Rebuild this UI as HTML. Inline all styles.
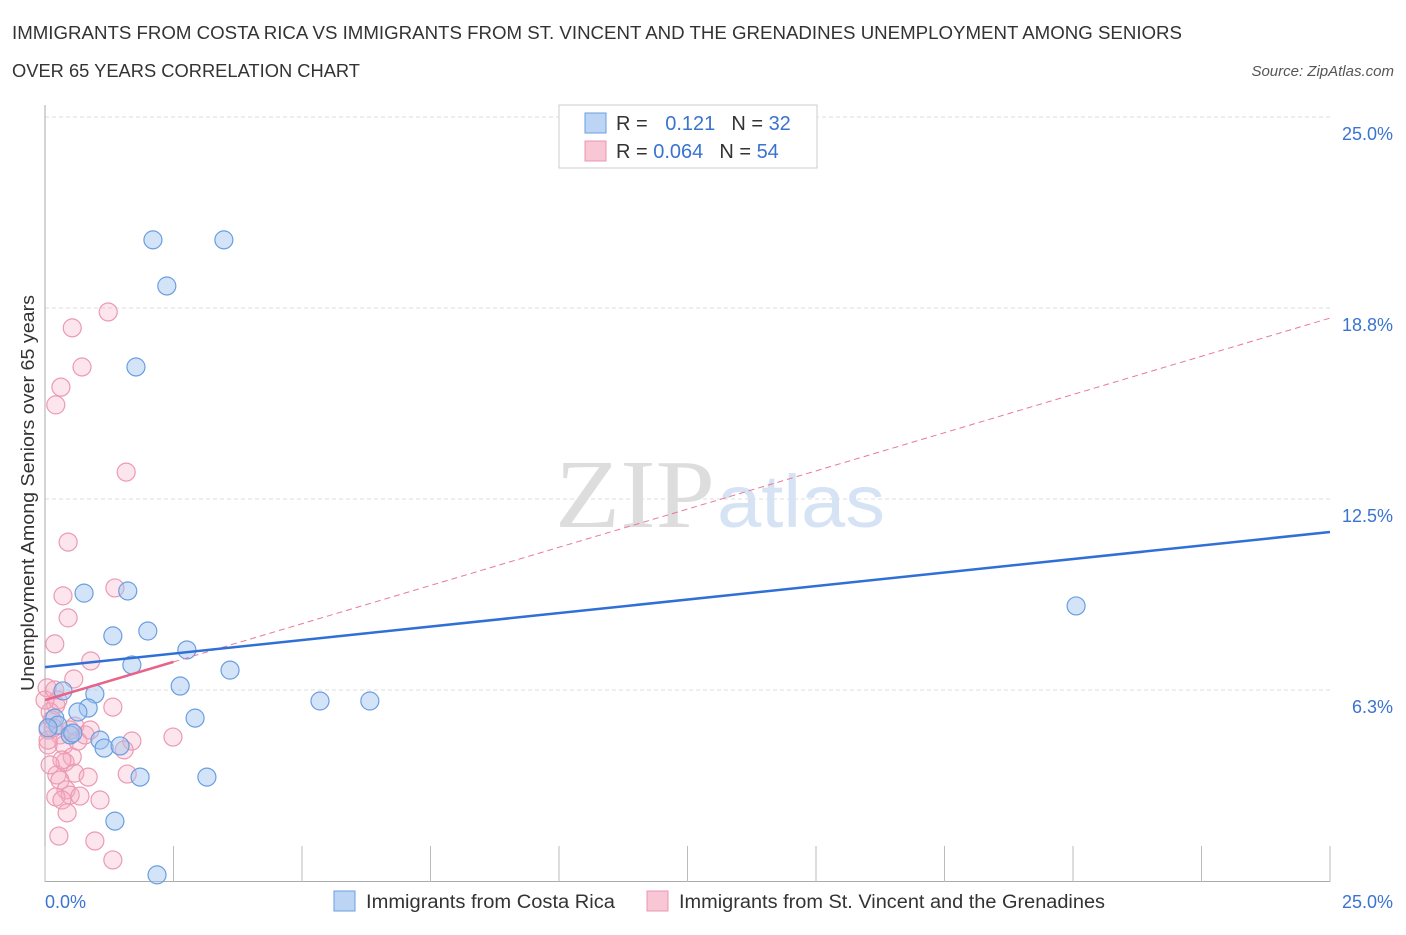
<!DOCTYPE html>
<html><head><meta charset="utf-8"><style>
body{margin:0;background:#fff;font-family:"Liberation Sans",sans-serif;}
svg text{font-family:"Liberation Sans",sans-serif;}
</style></head><body>
<svg id="chart" width="1406" height="930">
<text x="12" y="39" font-size="18" fill="#333" textLength="1170" lengthAdjust="spacingAndGlyphs">IMMIGRANTS FROM COSTA RICA VS IMMIGRANTS FROM ST. VINCENT AND THE GRENADINES UNEMPLOYMENT AMONG SENIORS</text>
<text x="12" y="77" font-size="18" fill="#333" textLength="348" lengthAdjust="spacingAndGlyphs">OVER 65 YEARS CORRELATION CHART</text>
<text x="1394" y="76" font-size="15" fill="#555" font-style="italic" text-anchor="end">Source: ZipAtlas.com</text>
<g id="grid"></g>
<text x="555" y="527" font-size="98" fill="#ddd" textLength="160" lengthAdjust="spacingAndGlyphs" style="font-family:'Liberation Serif',serif">ZIP</text>
<text x="717" y="527" font-size="74" fill="#d5e3f5" textLength="168" lengthAdjust="spacingAndGlyphs">atlas</text>
<g id="marks"></g>
<text x="34" y="493" font-size="18" fill="#333" text-anchor="middle" textLength="396" lengthAdjust="spacingAndGlyphs" transform="rotate(-90 34 493)">Unemployment Among Seniors over 65 years</text>
<g>
<rect x="559" y="105" width="258" height="63" fill="#fff" stroke="#ccc"/>
<rect x="585" y="113" width="21" height="20" fill="#bcd5f5" stroke="#6a9ee0"/>
<rect x="585" y="141" width="21" height="20" fill="#f8c6d4" stroke="#ea97b0"/>
<text x="616" y="130" font-size="20" fill="#333">R = <tspan fill="#3a73d0" dx="12">0.121</tspan><tspan fill="#333" dx="16">N = </tspan><tspan fill="#3a73d0">32</tspan></text>
<text x="616" y="158" font-size="20" fill="#333">R = <tspan fill="#3a73d0">0.064</tspan><tspan fill="#333" dx="16">N = </tspan><tspan fill="#3a73d0">54</tspan></text>
</g>
<g>
<rect x="334" y="891" width="21" height="20" fill="#bcd5f5" stroke="#6a9ee0"/>
<text x="366" y="908" font-size="19" fill="#333" textLength="249" lengthAdjust="spacingAndGlyphs">Immigrants from Costa Rica</text>
<rect x="647" y="891" width="21" height="20" fill="#f8c6d4" stroke="#ea97b0"/>
<text x="679" y="908" font-size="19" fill="#333" textLength="426" lengthAdjust="spacingAndGlyphs">Immigrants from St. Vincent and the Grenadines</text>
</g>
</svg>
<script>
const yTicks=[25,18.75,12.5,6.25];
const yTickLabels=["25.0%","18.8%","12.5%","6.3%"];
const blueX=[2.10,3.48,2.37,1.77,0.76,1.61,1.32,2.00,2.76,1.69,3.60,2.63,0.35,0.97,0.84,0.64,2.92,5.35,6.32,20.06,0.19,0.25,0.49,1.07,1.15,1.46,1.85,3.15,1.36,2.18,0.06,0.54];
const blueY=[20.98,20.98,19.47,16.82,9.42,9.49,8.02,8.18,7.56,7.07,6.90,6.38,6.22,6.12,5.66,5.53,5.33,5.89,5.89,9.00,5.33,5.10,4.78,4.61,4.35,4.42,3.40,3.40,1.96,0.20,5.01,4.84];
const pinkX=[1.23,0.53,0.72,0.31,0.21,1.58,0.45,1.36,0.35,0.45,0.19,0.89,0.56,0.04,1.32,0.21,0.10,0.58,0.14,0.06,0.29,0.37,0.06,0.53,0.39,1.69,1.54,2.49,0.64,0.23,0.58,0.84,1.60,0.29,0.41,0.49,1.07,0.21,0.33,0.68,0.43,0.27,0.97,1.32,0.06,0.16,0.78,0.25,0.00,0.88,0.33,0.10,0.49,0.19];
const pinkY=[18.62,18.10,16.82,16.16,15.58,13.38,11.09,9.59,9.33,8.61,7.76,7.20,6.61,6.32,5.69,5.76,5.53,5.07,5.27,4.94,4.78,4.45,4.45,4.06,3.89,4.58,4.29,4.71,4.58,3.47,3.53,3.40,3.50,3.30,2.98,2.81,2.65,2.75,2.65,2.78,2.23,1.47,1.31,0.69,4.61,5.01,4.78,5.92,5.92,4.94,3.96,3.80,4.94,6.25];
const blueTrend=[7.00,11.42];
const pinkTrend=[5.92,18.42];
const pinkSolidEnd=2.5;
const X=v=>45+v*51.4, Y=v=>881-v*30.56;
const NS="http://www.w3.org/2000/svg";
function mk(t,a,p){const e=document.createElementNS(NS,t);for(const k in a)e.setAttribute(k,a[k]);p.appendChild(e);return e;}
const g=document.getElementById('grid'), m=document.getElementById('marks');
yTicks.forEach((t,i)=>{
 const l=mk('line',{x1:45,x2:1330,y1:Y(t),y2:Y(t),stroke:'#ddd','stroke-dasharray':'4 3'},g);
 
 
 const tx=mk('text',{x:1393,y:Y(t)+23,'font-size':18,fill:'#3a73d0','text-anchor':'end'},g);tx.textContent=yTickLabels[i];
 
 
});
const ax=mk('line',{x1:45,x2:45,y1:105,y2:882,stroke:'#aaa'},g);


const bx=mk('line',{x1:45,x2:1330,y1:881.5,y2:881.5,stroke:'#aaa'},g);


for(let i=0;i<=10;i++){const t=mk('line',{x1:X(i*2.5),x2:X(i*2.5),y1:846,y2:882,stroke:'#bbb'},g);
 
 }
const x0=mk('text',{x:45,y:908,'font-size':18,fill:'#3a73d0'},g);x0.textContent='0.0%';


const x1=mk('text',{x:1393,y:908,'font-size':18,fill:'#3a73d0','text-anchor':'end'},g);x1.textContent='25.0%';


pinkX.forEach((v,i)=>{const c=mk('circle',{cx:X(v),cy:Y(pinkY[i]),r:9,fill:'rgba(245,170,192,0.3)',stroke:'#eb9ab2','stroke-width':1.2},m);
 
 });
blueX.forEach((v,i)=>{const c=mk('circle',{cx:X(v),cy:Y(blueY[i]),r:9,fill:'rgba(160,196,240,0.45)',stroke:'#6a9ee0','stroke-width':1.2},m);
 
 });
const slope=(pinkTrend[1]-pinkTrend[0])/25;
const pd=mk('line',{x1:X(pinkSolidEnd),y1:Y(pinkTrend[0]+slope*pinkSolidEnd),x2:X(25),y2:Y(pinkTrend[1]),stroke:'#e9799b','stroke-width':1,'stroke-dasharray':'6 4'},m);


const ps=mk('line',{x1:X(0),y1:Y(pinkTrend[0]),x2:X(pinkSolidEnd),y2:Y(pinkTrend[0]+slope*pinkSolidEnd),stroke:'#e8628a','stroke-width':2.5},m);


const bl=mk('line',{x1:X(0),y1:Y(blueTrend[0]),x2:X(25),y2:Y(blueTrend[1]),stroke:'#2f6fd6','stroke-width':2.5},m);


</script>
</body></html>
